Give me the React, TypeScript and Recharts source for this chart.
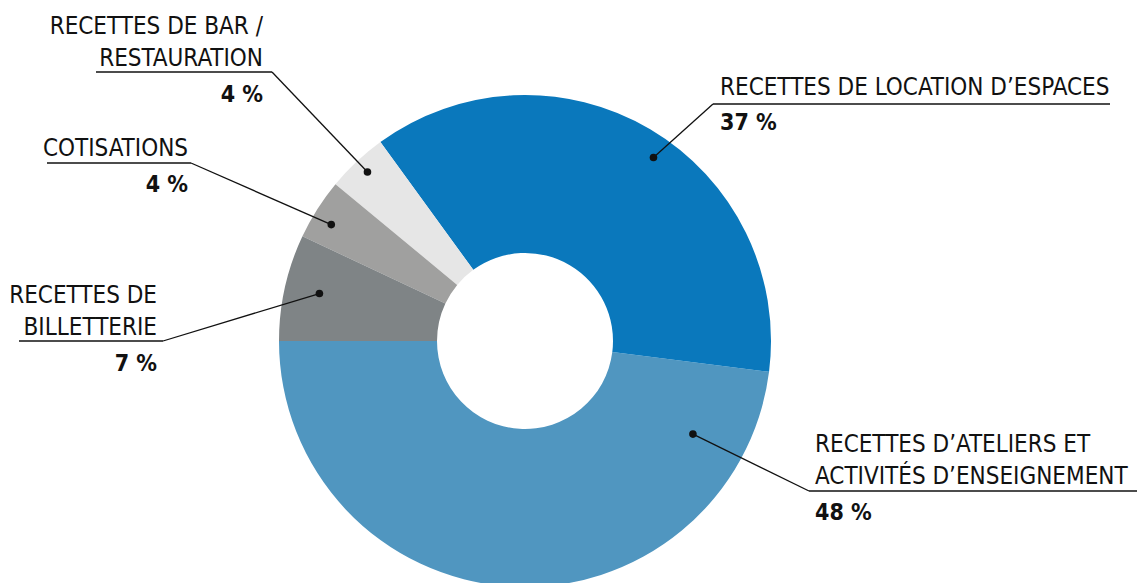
import { PieChart, Pie, Cell } from 'recharts'

// revenue shares, in drawing order (clockwise from 9 o'clock)
const categories = ['ateliers', 'location', 'bar', 'cotisations', 'billetterie']
const labelLines = [
  ['RECETTES D’ATELIERS ET', 'ACTIVITÉS D’ENSEIGNEMENT'],
  ['RECETTES DE LOCATION D’ESPACES'],
  ['RECETTES DE BAR /', 'RESTAURATION'],
  ['COTISATIONS'],
  ['RECETTES DE', 'BILLETTERIE'],
]
const shares = [48, 37, 4, 4, 7]
const colors = ['#5096C0', '#0A78BC', '#E6E6E6', '#A0A09F', '#7F8486']

// annotation layout (leader dot in polar coords around the pie centre, text block in px)
const layout = [
  { dotAngle: -29, dotR: 192, anchor: 'start', x: 815, y: 452, ulY: 491, ulX1: 809, ulX2: 1137, pctY: 520 },
  { dotAngle: 55, dotR: 224, anchor: 'start', x: 720, y: 95, ulY: 104, ulX1: 713, ulX2: 1110, pctY: 130 },
  { dotAngle: 133, dotR: 231, anchor: 'end', x: 263, y: 34, ulY: 72, ulX1: 96, ulX2: 272, pctY: 102 },
  { dotAngle: 149, dotR: 226, anchor: 'end', x: 188, y: 156, ulY: 163, ulX1: 47, ulX2: 191, pctY: 192 },
  { dotAngle: 167, dotR: 211, anchor: 'end', x: 157, y: 303, ulY: 341, ulX1: 19, ulX2: 163, pctY: 371 },
]

const FONT = '"Liberation Sans Narrow", "DejaVu Sans Condensed", "Roboto Condensed", sans-serif'
const RAD = Math.PI / 180

const data = categories.map((c, i) => ({ name: c, value: shares[i], idx: i }))

function renderLabel(props: any) {
  const { cx, cy, index } = props
  const i = index ?? props.payload?.idx ?? 0
  const l = layout[i]
  const dx = cx + l.dotR * Math.cos(l.dotAngle * RAD)
  const dy = cy - l.dotR * Math.sin(l.dotAngle * RAD)
  const lx = l.anchor === 'end' ? l.ulX2 : l.ulX1
  return (
    <g key={`lbl-${i}`}>
      <line x1={l.ulX1} y1={l.ulY} x2={l.ulX2} y2={l.ulY} stroke="#111" strokeWidth={1.3} />
      <line x1={lx} y1={l.ulY} x2={dx} y2={dy} stroke="#111" strokeWidth={1.3} />
      <circle cx={dx} cy={dy} r={3.8} fill="#111" />
      {labelLines[i].map((t, k) => (
        <text key={k} x={l.x} y={l.y + k * 31.5} textAnchor={l.anchor} fontFamily={FONT} fontSize={24} fill="#111">{t}</text>
      ))}
      <text x={l.x} y={l.pctY} textAnchor={l.anchor} fontFamily={FONT} fontSize={23} fontWeight={700} fill="#111">{shares[i]} %</text>
    </g>
  )
}

export default function App() {
  return (
    <div style={{ position: 'absolute', left: 0, top: 0, background: '#fff' }}>
      <PieChart width={1139} height={583} margin={{ top: 0, right: 0, bottom: 0, left: 0 }}>
        <Pie data={data} dataKey="value" nameKey="name" cx={525} cy={341} innerRadius={88} outerRadius={246}
          startAngle={180} endAngle={540} stroke="none" label={renderLabel} labelLine={false} isAnimationActive={false}>
          {data.map((d, i) => <Cell key={d.name} fill={colors[i]} />)}
        </Pie>
      </PieChart>
    </div>
  )
}
